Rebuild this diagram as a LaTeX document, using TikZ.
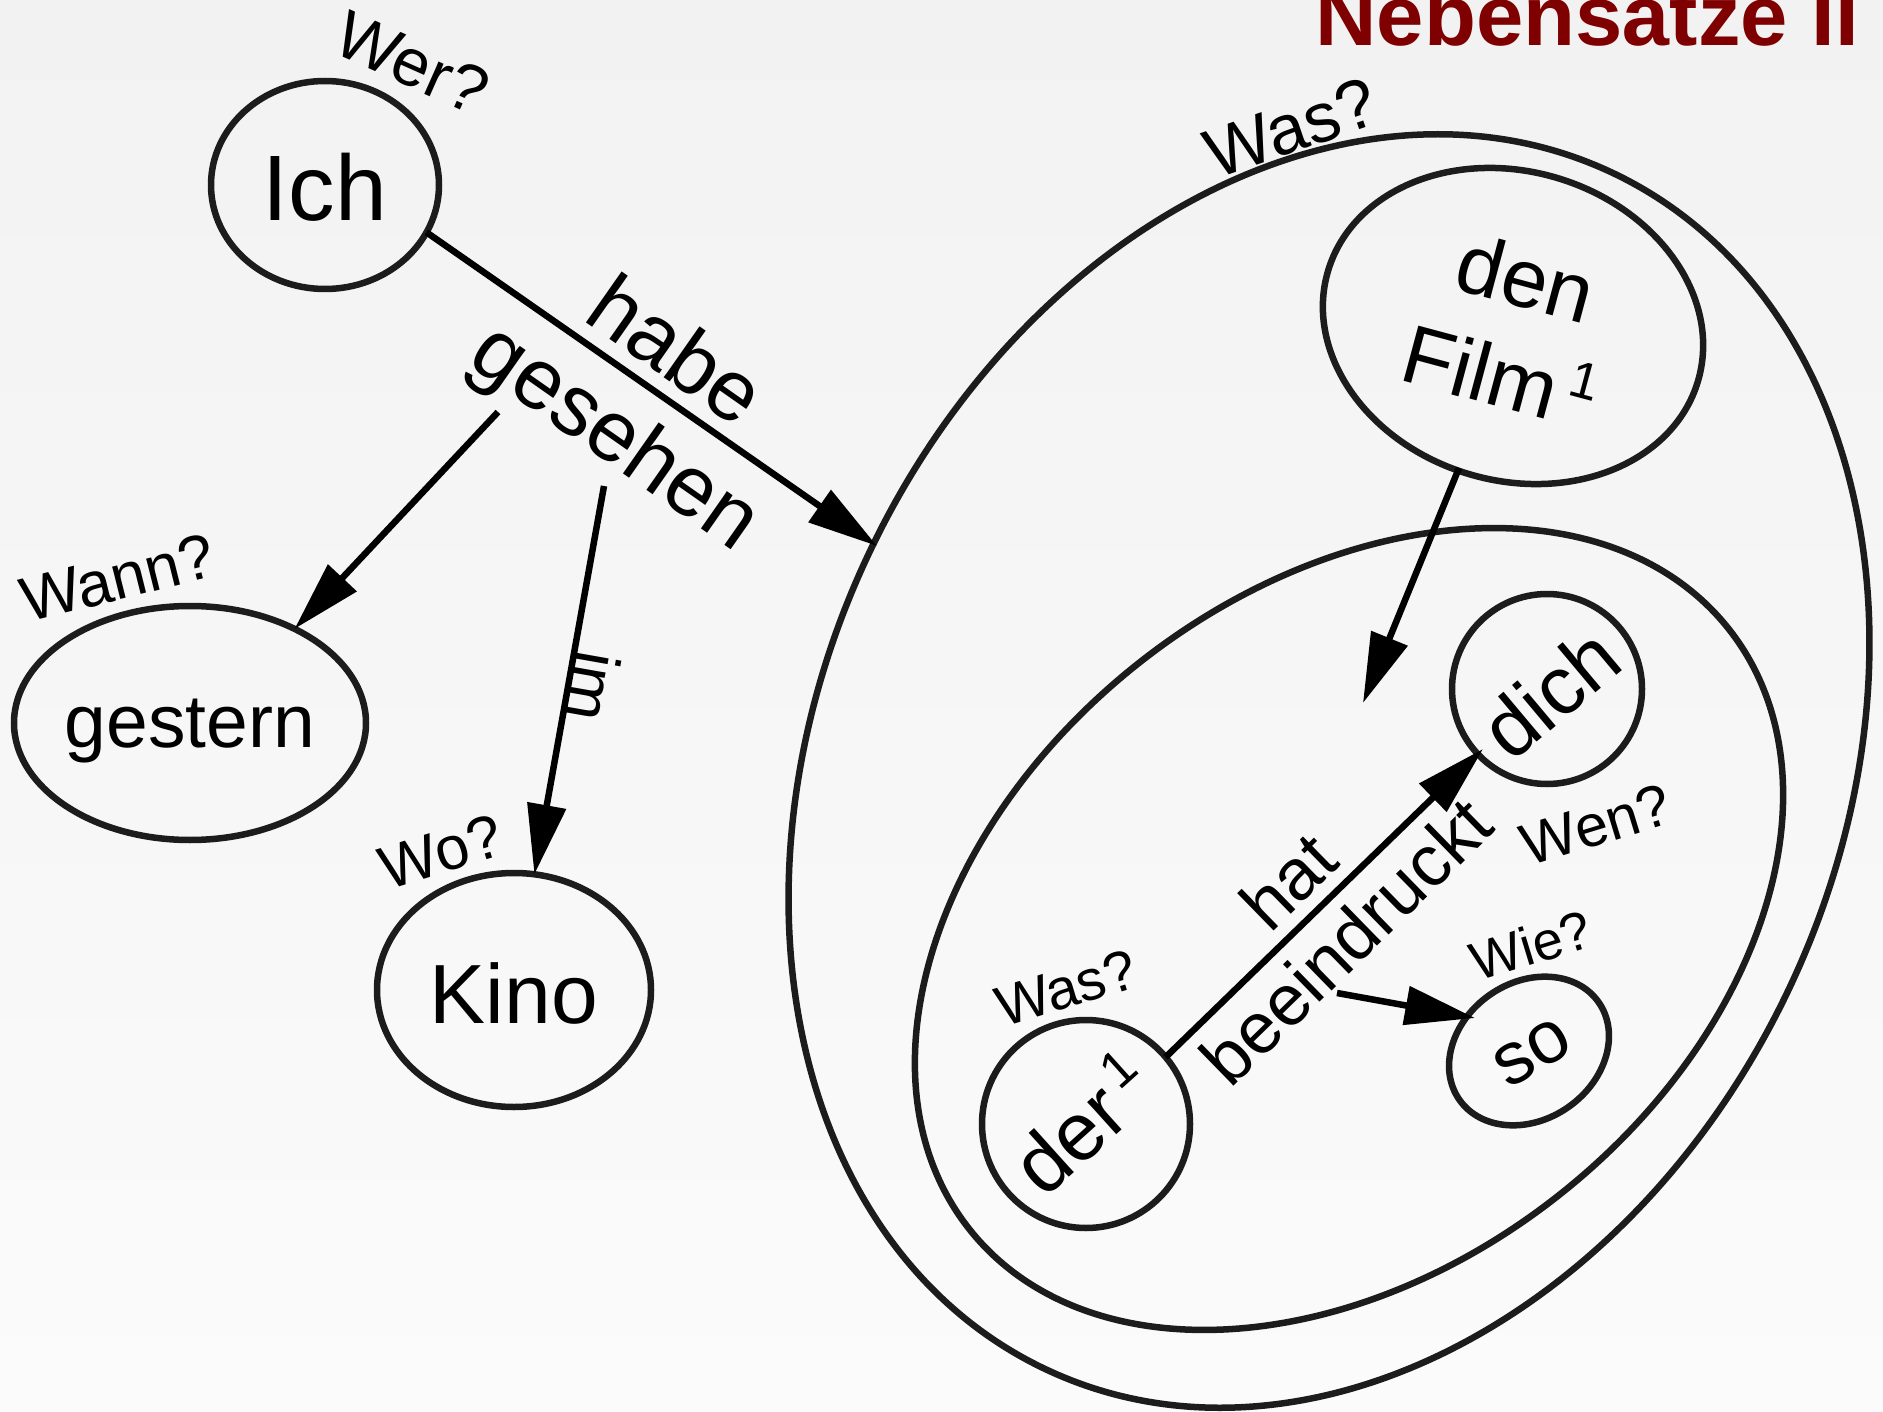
\documentclass[tikz,border=0pt]{standalone}
\usepackage{fontspec}
\setmainfont{Liberation Sans}
\usetikzlibrary{arrows.meta,shapes.geometric}
\definecolor{titlered}{HTML}{7F0000}
\definecolor{bgtop}{HTML}{F2F2F2}
\definecolor{bgbot}{HTML}{FBFBFB}
\definecolor{outl}{HTML}{1C1C1C}
\newcommand{\supone}{\hspace{10pt}\raisebox{30pt}{\fontsize{52}{52}\selectfont 1}}
\newcommand{\fs}[1]{\fontsize{#1}{#1}\selectfont}
\begin{document}
\begin{tikzpicture}[x=1pt,y=-1pt,
  outline/.style={draw=outl, line width=6.5pt, inner sep=0pt, outer sep=0pt},
  conn/.style={draw=black, line width=6.5pt, -{Triangle[length=70pt,width=38pt]}},
  word/.style={inner sep=0pt, outer sep=0pt, text=black},
]
\useasboundingbox (0,0) rectangle (1883,1412);
\clip (0,0) rectangle (1883,1412);
\shade[top color=bgtop, bottom color=bgbot] (0,0) rectangle (1883,1412);

% shapes
\node[outline, ellipse, minimum width=228pt, minimum height=208pt] (ich) at (325,185) {};
\node[outline, ellipse, minimum width=352pt, minimum height=234pt] (gestern) at (190,723) {};
\node[outline, ellipse, minimum width=274pt, minimum height=234pt] (kino) at (514,990) {};
\node[outline, ellipse, minimum width=1324pt, minimum height=1018pt, rotate=64.6] (big) at (1329,771) {};
\node[outline, ellipse, minimum width=968pt, minimum height=678pt, rotate=38.3] (inner) at (1349,929) {};
\node[outline, ellipse, minimum width=386pt, minimum height=309pt, rotate=-16.7] (film) at (1513,326) {};
\node[outline, circle, minimum size=190pt] (dich) at (1547,689) {};
\node[outline, circle, minimum size=208pt] (der) at (1086,1124) {};
\node[outline, ellipse, minimum width=170pt, minimum height=137pt, rotate=35] (so) at (1529,1051) {};

% connector ends
\coordinate (verbA) at (498,412);
\coordinate (verbB) at (604,486);
\coordinate (bigW) at (877,546);
\coordinate (filmS) at (1459,468);
\coordinate (innerN) at (1363,703);
\coordinate (dichSW) at (1483,749);
\coordinate (verbC) at (1337,993);
\coordinate (soW) at (1475,1018);

% connectors
\draw[conn] (ich.-25) -- (bigW);
\draw[conn] (verbA) -- (gestern.42);
\draw[conn] (verbB) -- (kino.80);
\draw[conn] (filmS) -- (innerN);
\draw[conn] (der.40) -- (dichSW);
\draw[conn] (verbC) -- (soW);

% texts in shapes
\node[word, font=\fs{93}] (ichtext) at (325,187) {Ich};
\node[word, font=\fs{75}] (gesterntext) at (190,731) {gestern};
\node[word, font=\fs{84}] (kinotext) at (514,993) {Kino};
\node[word, font=\fontsize{83}{102}\selectfont, rotate=-15, align=center] (filmtext) at (1513,327) {den\\Film\supone};
\node[word, font=\fs{82}, rotate=40] (dichtext) at (1550,693) {dich};
\node[word, font=\fs{82}, rotate=42] (dertext) at (1081,1123) {der\supone};
\node[word, font=\fs{74}, rotate=30] (sotext) at (1533,1053) {so};

% connector labels
\node[word, font=\fontsize{86}{102}\selectfont, rotate=-35, align=center] (hg) at (643,398) {habe\\gesehen};
\node[word, font=\fontsize{72}{83}\selectfont, rotate=44.3, align=center] (hb) at (1317,911) {hat\\beeindruckt};
\node[word, font=\fs{66}, rotate=-100] (im) at (593,687) {im};

% questions
\node[word, font=\fs{67}, rotate=-24] (qwer) at (412,63) {Wer?};
\node[word, font=\fs{63}, rotate=14] (qwann) at (118,578) {Wann?};
\node[word, font=\fs{61}, rotate=17] (qwo) at (441,852) {Wo?};
\node[word, font=\fs{70}, rotate=19] (qwasa) at (1291,128) {Was?};
\node[word, font=\fs{57}, rotate=17] (qwasb) at (1066,988) {Was?};
\node[word, font=\fs{59}, rotate=17] (qwen) at (1596,825) {Wen?};
\node[word, font=\fs{54}, rotate=17] (qwie) at (1531,945) {Wie?};

% title
\node[anchor=base east, inner sep=0pt, font=\fs{85}\bfseries, text=titlered] (title) at (1859,46) {Nebensätze II};
\end{tikzpicture}
\end{document}
